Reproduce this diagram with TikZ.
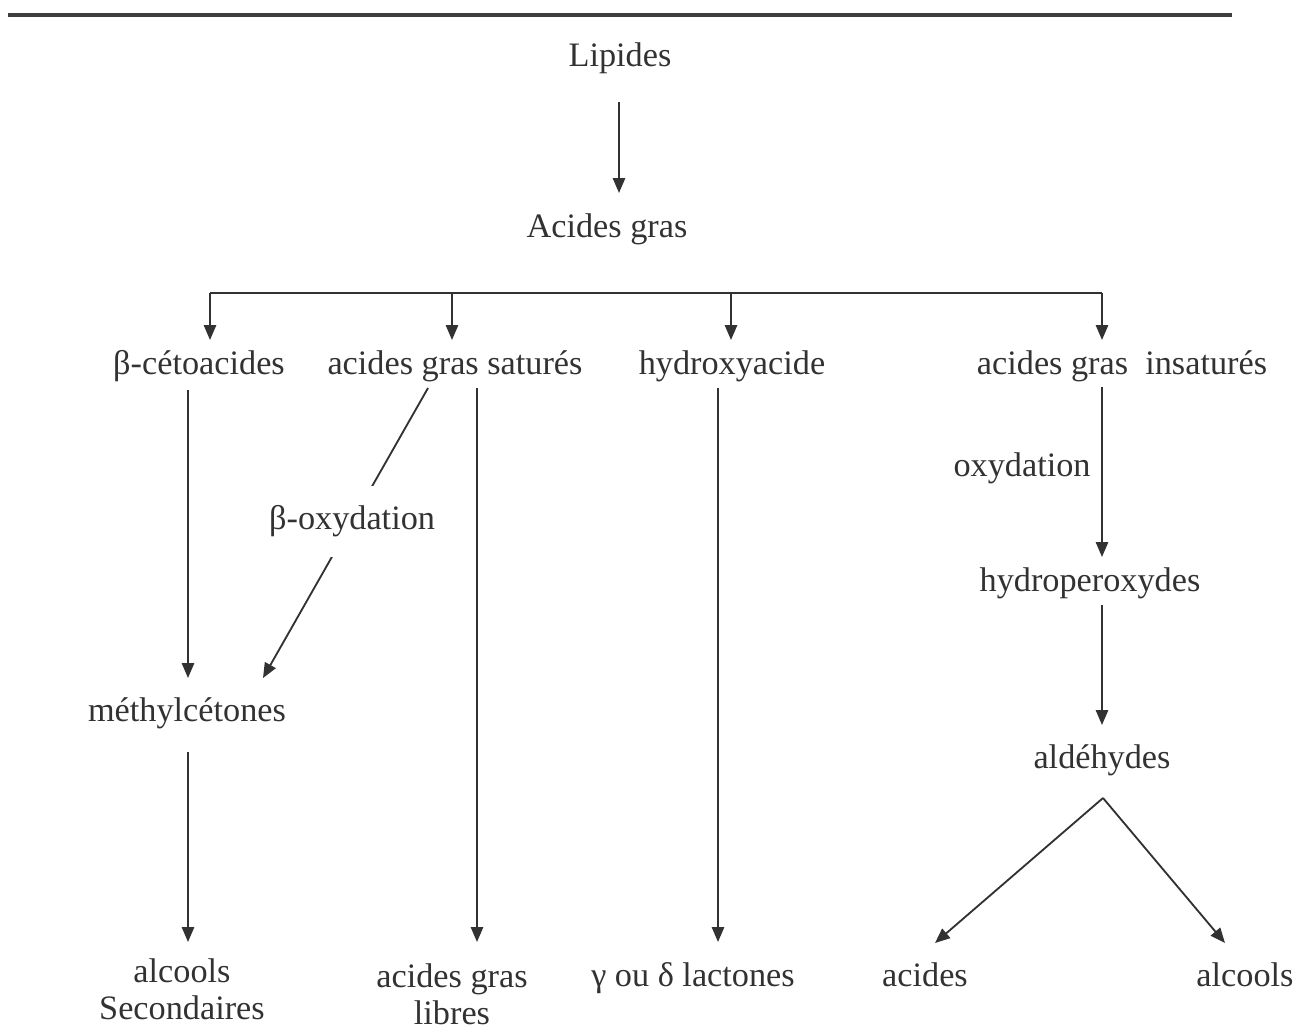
\documentclass[tikz,border=0pt]{standalone}
\usepackage{fontspec}
\setmainfont{Liberation Serif}
\usetikzlibrary{arrows.meta,calc}
\definecolor{inkgray}{RGB}{50,50,50}
\definecolor{rulegray}{RGB}{62,62,62}

\begin{document}
\begin{tikzpicture}[x=0.02cm, y=-0.02cm, >={Triangle[length=8.5pt,width=7pt]},
    lbl/.style={anchor=base, inner sep=0pt, text height=13.5pt, text depth=4.5pt, text=inkgray, font=\fontsize{19.5}{21.5}\selectfont},
    lbltwo/.style={anchor=north, inner sep=0pt, align=center, text=inkgray, font=\fontsize{19.5}{21.5}\selectfont},
    arr/.style={->, draw=inkgray, line width=1.05pt},
    lnk/.style={draw=inkgray, line width=1.05pt}]
    \useasboundingbox (0,0) rectangle (1298,1025);
    \draw[rulegray, line width=2.8pt] (8,15) -- (1232,15);

    % Nodes
    \node[lbl] (lip) at (620,66) {Lipides};
    \node[lbl] (ag) at (607,237) {Acides gras};
    \node[lbl] (bc) at (199,374) {β-cétoacides};
    \node[lbl] (ags) at (455,374) {acides gras saturés};
    \node[lbl] (hyd) at (732,374) {hydroxyacide};
    \node[lbl] (ains) at (1122,374) {acides gras~ insaturés};
    \node[lbl] (mc) at (187,721) {méthylcétones};
    \node[lbl] (hp) at (1090,591) {hydroperoxydes};
    \node[lbl] (ald) at (1102,768) {aldéhydes};
    \node[lbltwo] (asec) at (182,958) {alcools\\Secondaires};
    \node[lbltwo] (agl) at (452,963) {acides gras\\libres};
    \node[lbl] (lac) at (693,986) {γ ou δ lactones};
    \node[lbl] (acd) at (925,986) {acides};
    \node[lbl] (alc) at (1245,986) {alcools};

    % Fork below Acides gras
    \draw[arr] ($(lip.base)+(-1,36)$) -- ($(ag.base)+(12,-44)$);
    \coordinate (fork) at ($(ag.base)+(0,56)$);
    \coordinate (bctop) at ($(bc.base)+(11,-34)$);
    \coordinate (agstop) at ($(ags.base)+(-3,-34)$);
    \coordinate (hydtop) at ($(hyd.base)+(-1,-34)$);
    \coordinate (ainstop) at ($(ains.base)+(-20,-34)$);
    \draw[lnk] (fork -| bctop) -- (fork -| ainstop);
    \draw[arr] (fork -| bctop) -- (bctop);
    \draw[arr] (fork -| agstop) -- (agstop);
    \draw[arr] (fork -| hydtop) -- (hydtop);
    \draw[arr] (fork -| ainstop) -- (ainstop);

    % Left branches
    \draw[arr] ($(bc.base)+(-11,16)$) -- ($(mc.base)+(1,-43)$);
    \draw[arr] ($(ags.base)+(-27,14)$) -- node[lbl, anchor=center, pos=0.46, fill=white, inner xsep=2pt, inner ysep=11pt] (box) {β-oxydation} ($(mc.base)+(76,-43)$);
    \draw[arr] ($(mc.base)+(1,31)$) -- ($(asec.north)+(6,-16)$);
    \draw[arr] ($(ags.base)+(22,14)$) -- ($(agl.north)+(25,-21)$);
    \draw[arr] ($(hyd.base)+(-14,14)$) -- ($(lac.base)+(25,-44)$);

    % Right branch
    \draw[arr] ($(ains.base)+(-20,13)$) -- node[lbl, left=6pt, pos=0.48] (ox) {oxydation} ($(hp.base)+(12,-34)$);
    \draw[arr] ($(hp.base)+(12,14)$) -- ($(ald.base)+(0,-43)$);
    \draw[arr] ($(ald.base)+(1,30)$) -- ($(acd.base)+(10,-43)$);
    \draw[arr] ($(ald.base)+(1,30)$) -- ($(alc.base)+(-20,-43)$);
\end{tikzpicture}
\end{document}
